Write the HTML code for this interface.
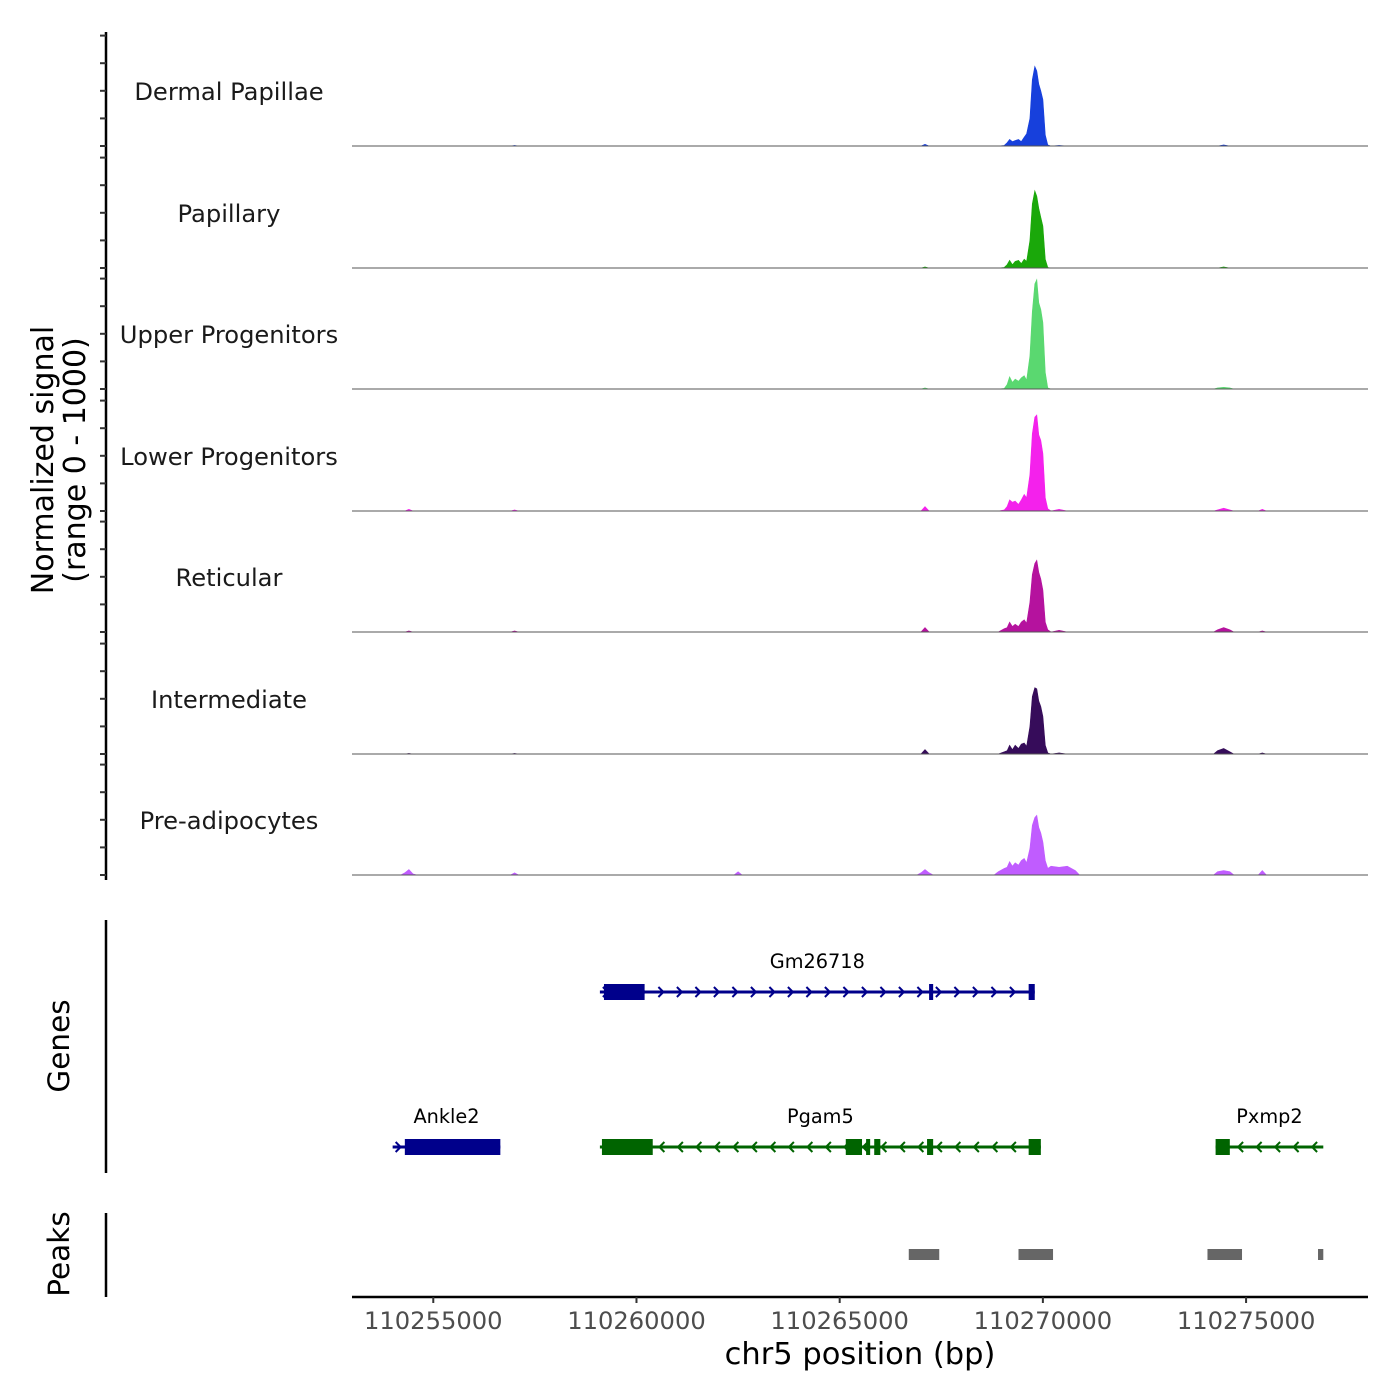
<!DOCTYPE html>
<html><head><meta charset="utf-8"><style>
html,body{margin:0;padding:0;background:#fff;}
svg{display:block;font-family:"DejaVu Sans","Liberation Sans",sans-serif;}
</style></head><body>
<svg id="chart" width="1400" height="1400" viewBox="0 0 1400 1400" xmlns="http://www.w3.org/2000/svg"></svg>
<script>
const tracks = ["Dermal Papillae","Papillary","Upper Progenitors","Lower Progenitors","Reticular","Intermediate","Pre-adipocytes"];
const trackColors = ["#1740dc","#1aa80a","#5ad870","#f421ec","#b5129e","#360c5a","#c05cff"];
const positions = [110253000,110254300,110254400,110254500,110257000,110262500,110267000,110267100,110267200,
 110268900,110269050,110269120,110269180,110269250,110269320,110269400,110269470,110269540,110269600,110269680,110269740,110269800,110269850,110269900,110269950,110270000,110270060,110270120,110270200,
 110270400,110270600,110270800,110274300,110274450,110274600,110275400,110278000];
const valsDP  = [0,0,0,0,5,0,0,15,0, 0,5,30,60,40,50,60,40,80,110,250,600,720,680,560,500,420,100,10,0, 5,0,0,0,10,0,0,0];
const valsPap = [0,0,0,0,0,0,0,10,0, 0,5,30,70,30,60,70,40,80,60,250,580,700,650,540,460,380,80,5,0, 0,0,0,0,10,0,0,0];
const valsUP  = [0,0,0,0,0,0,0,10,0, 0,5,40,110,60,90,70,100,120,80,300,700,950,990,780,720,600,150,10,0, 0,0,0,10,15,10,0,0];
const valsLP  = [0,0,15,0,10,0,0,40,0, 0,10,40,100,80,90,60,100,150,120,330,700,850,870,690,640,520,120,20,0, 15,0,0,10,25,10,15,0];
const valsRet = [0,0,10,0,10,0,0,40,0, 0,30,40,90,50,70,50,90,110,80,270,520,620,650,540,480,380,90,20,0, 15,0,0,20,40,20,10,0];
const valsInt = [0,0,5,0,5,0,0,40,0, 0,20,30,80,40,80,50,90,100,70,250,520,600,590,480,430,340,80,10,0, 10,0,0,30,50,20,10,0];
const valsPre = [0,20,50,10,20,30,20,50,20, 30,60,70,120,80,110,90,130,150,110,240,450,520,540,430,380,300,130,60,80, 70,80,40,30,40,30,40,0];
const trackValues = [valsDP,valsPap,valsUP,valsLP,valsRet,valsInt,valsPre];
const xTicks = [110255000,110260000,110265000,110270000,110275000];
const genes = [
 {name:"Gm26718",strand:1,row:0,start:110259100,end:110269800,exons:[[110259200,110260200],[110267200,110267300],[110269650,110269800]],color:"#00008b"},
 {name:"Ankle2",strand:1,row:1,start:110254000,end:110256650,exons:[[110254300,110256650]],color:"#00008b"},
 {name:"Pgam5",strand:-1,row:1,start:110259100,end:110269950,exons:[[110259150,110260400],[110265150,110265550],[110265650,110265750],[110265850,110266000],[110267150,110267300],[110269650,110269950]],color:"#006400"},
 {name:"Pxmp2",strand:-1,row:1,start:110274250,end:110276900,exons:[[110274250,110274600]],color:"#006400"}
];
const peakStarts = [110266700,110269400,110274050,110276770];
const peakEnds   = [110267450,110270250,110274900,110276900];

const NS="http://www.w3.org/2000/svg";
const svg=document.getElementById('chart');
const X0=352,X1=1368,D0=110253000,D1=110278000;
function xs(v){return X0+(v-D0)/(D1-D0)*(X1-X0);}
function ys(v,b){return b-v*0.1105;}
function mk(tag,attrs,parent){const e=document.createElementNS(NS,tag);for(const k in attrs)e.setAttribute(k,attrs[k]);(parent||svg).appendChild(e);return e;}

const yAxis=mk('line',{x1:106,y1:32,x2:106,y2:880,stroke:'#000','stroke-width':2.5});


const baselines=[146,268,389,511,632,754,875];
tracks.forEach((name,i)=>{
  const b=baselines[i];
  const g=mk('g',{});
  
  
  for(let k=0;k<=4;k++){const y=b-k*27.6;const t=mk('line',{x1:100,x2:106,y1:y,y2:y,stroke:'#333','stroke-width':2},g);
    
    }
  const vals=trackValues[i];
  let d='M'+xs(positions[0])+','+b;
  let prev=null;
  positions.forEach((p,j)=>{
    if(prev!==null && p-prev>400){
      d+=' L'+xs(prev+100).toFixed(1)+','+b+' L'+xs(p-100).toFixed(1)+','+b;
    }
    d+=' L'+xs(p).toFixed(1)+','+ys(vals[j],b).toFixed(1);
    prev=p;
  });
  d+=' L'+xs(positions[positions.length-1])+','+b+' Z';
  const area=mk('path',{d:d,fill:trackColors[i],stroke:trackColors[i],'stroke-width':0.6},g);
  
  
  const bl=mk('line',{x1:X0,x2:X1,y1:b,y2:b,stroke:'#555','stroke-width':1},g);
  
  
  const lab=mk('text',{x:229,y:b-46,'text-anchor':'middle','font-size':24.2,fill:'#1a1a1a'},g);
  lab.textContent=name;
  
  
});
const yt=mk('text',{transform:'translate(53,460) rotate(-90)','text-anchor':'middle','font-size':30,fill:'#000'});


const t1=mk('tspan',{x:0,dy:0},yt);t1.textContent='Normalized signal';
const t2=mk('tspan',{x:0,dy:32},yt);t2.textContent='(range 0 - 1000)';

const ga=mk('line',{x1:106,y1:920,x2:106,y2:1173,stroke:'#000','stroke-width':2.5});


const gt=mk('text',{transform:'translate(69,1046) rotate(-90)','text-anchor':'middle','font-size':29.5});
gt.textContent='Genes';


genes.forEach(gn=>{
  const y=gn.row===0?992:1147;
  const g=mk('g',{});
  
  
  const x1=xs(gn.start),x2=xs(gn.end);
  mk('line',{x1:x1,x2:x2,y1:y,y2:y,stroke:gn.color,'stroke-width':3},g);
  for(let x=x1+6;x<x2-4;x+=18.5){
    const d=gn.strand>0?`M${x-3},${y-5} L${x+2},${y} L${x-3},${y+5}`:`M${x+3},${y-5} L${x-2},${y} L${x+3},${y+5}`;
    mk('path',{d:d,fill:'none',stroke:gn.color,'stroke-width':2},g);
  }
  gn.exons.forEach(e=>{const r=mk('rect',{x:xs(e[0]),y:y-8,width:Math.max(3,xs(e[1])-xs(e[0])),height:16,fill:gn.color},g);
    
    });
  const lb=mk('text',{x:(x1+x2)/2,y:y-24,'text-anchor':'middle','font-size':19.3,fill:'#000'},g);
  lb.textContent=gn.name;
  
  
});

const pa=mk('line',{x1:106,y1:1213,x2:106,y2:1297,stroke:'#000','stroke-width':2.5});


const pt=mk('text',{transform:'translate(69,1254) rotate(-90)','text-anchor':'middle','font-size':29.5});
pt.textContent='Peaks';


peakStarts.forEach((s,i)=>{const r=mk('rect',{x:xs(s),y:1249,width:xs(peakEnds[i])-xs(s),height:11,fill:'#666'});
  
  });

const xa=mk('line',{x1:X0,x2:X1,y1:1297,y2:1297,stroke:'#000','stroke-width':2.5});


xTicks.forEach(v=>{const x=xs(v);
  const t=mk('line',{x1:x,x2:x,y1:1297,y2:1303,stroke:'#333','stroke-width':2});
  
  
  const l=mk('text',{x:x,y:1329,'text-anchor':'middle','font-size':24.2,fill:'#4d4d4d'});
  l.textContent=String(v);
  
  });
const xt=mk('text',{x:860,y:1364,'text-anchor':'middle','font-size':30.5,fill:'#000'});
xt.textContent='chr5 position (bp)';


</script>
</body></html>
